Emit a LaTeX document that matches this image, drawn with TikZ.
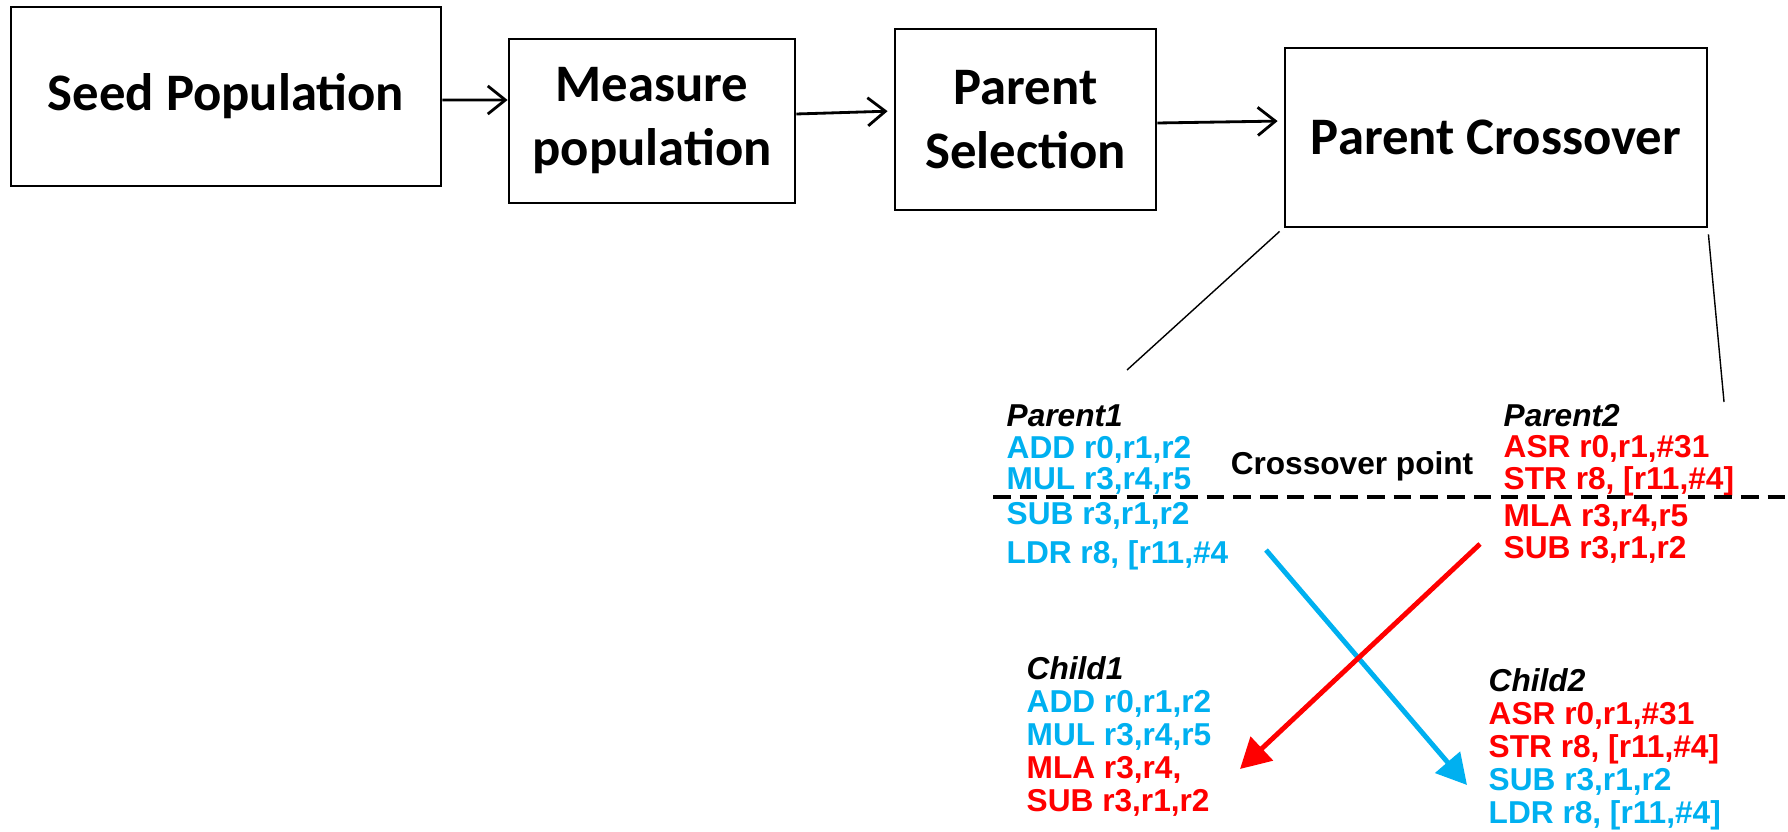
\documentclass[tikz,border=0pt]{standalone}
\usepackage{fontspec}
\setmainfont{Carlito}
\newfontfamily\armfont{Liberation Sans}
\usetikzlibrary{arrows.meta}

\definecolor{geneblue}{HTML}{00B0F0}
\definecolor{genered}{HTML}{FF0000}

\tikzset{
  stage/.style={draw, line width=0.8pt, align=center, inner sep=0pt,
    font=\bfseries\fontsize{15pt}{18.2pt}\selectfont},
  flow/.style={-{Straight Barb[length=5pt,width=8pt]}, line width=0.8pt},
  code/.style={anchor=base west, align=left, inner sep=0pt,
    font=\armfont\bfseries\fontsize{9pt}{9.36pt}\selectfont},
  tight/.style={font=\armfont\bfseries\fontsize{9pt}{9pt}\selectfont},
  zoomline/.style={line width=0.4pt},
  swap/.style={line width=1.4pt, -{Triangle[length=0.3cm,width=0.32cm]}}
}

\begin{document}
\begin{tikzpicture}
  \useasboundingbox (0,0) rectangle (17.88,-8.32);
  % GA flow
  \node[stage, minimum width=4.30cm, minimum height=1.79cm] (seed) at (2.26,-0.965) {Seed Population};
  \node[stage, minimum width=2.86cm, minimum height=1.64cm] (measure) at (6.52,-1.21) {Measure\\population};
  \node[stage, minimum width=2.61cm, minimum height=1.81cm] (select) at (10.255,-1.195) {Parent\\Selection};
  \node[stage, minimum width=4.22cm, minimum height=1.79cm] (cross) at (14.96,-1.375) {Parent Crossover};
  \draw[flow] ([yshift=-0.035cm]seed.east) -- ([yshift=0.21cm]measure.west);
  \draw[flow, shorten >=0.06cm] ([yshift=0.07cm]measure.east) -- ([yshift=0.085cm]select.west);
  \draw[flow, shorten >=0.06cm] ([yshift=-0.035cm]select.east) -- ([yshift=0.165cm]cross.west);
  % zoom into the crossover step
  \coordinate (zoomL) at (11.27,-3.70);
  \coordinate (zoomR) at (17.24,-4.02);
  \draw[zoomline] ([shift={(-0.04,-0.03)}]cross.south west) -- (zoomL);
  \draw[zoomline] ([shift={(0,-0.06)}]cross.south east) -- (zoomR);
  % parents (base = last line)
  \node[code, tight] (parentA) at (10.06,-5.635) {\textit{Parent1}\\
    \textcolor{geneblue}{ADD r0,r1,r2}\\
    \textcolor{geneblue}{MUL r3,r4,r5}\\[1pt]
    \textcolor{geneblue}{SUB r3,r1,r2}\\[2pt]
    \textcolor{geneblue}{LDR r8, [r11,\#4}};
  \node[code, tight] (parentB) at (15.03,-5.58) {\textit{Parent2}\\
    \textcolor{genered}{ASR r0,r1,\#31}\\
    \textcolor{genered}{STR r8, [r11,\#4]}\\[1.5pt]
    \textcolor{genered}{MLA r3,r4,r5}\\
    \textcolor{genered}{SUB r3,r1,r2}};
  \node[code, anchor=base] (cutlabel) at (13.52,-4.75) {Crossover point};
  \coordinate (cutL) at (9.93,-4.97);
  \coordinate (cutR) at (17.88,-4.97);
  \draw[line width=1.1pt, dash pattern=on 5pt off 2.6pt] (cutL) -- (cutR);
  % children
  \node[code] (childA) at (10.26,-8.11) {\textit{Child1}\\
    \textcolor{geneblue}{ADD r0,r1,r2}\\
    \textcolor{geneblue}{MUL r3,r4,r5}\\
    \textcolor{genered}{MLA r3,r4,}\\
    \textcolor{genered}{SUB r3,r1,r2}};
  \node[code] (childB) at (14.88,-8.235) {\textit{Child2}\\
    \textcolor{genered}{ASR r0,r1,\#31}\\
    \textcolor{genered}{STR r8, [r11,\#4]}\\
    \textcolor{geneblue}{SUB r3,r1,r2}\\
    \textcolor{geneblue}{LDR r8, [r11,\#4]}};
  % swapped tails
  \coordinate (tailA) at (12.66,-5.50);
  \coordinate (headA) at (14.67,-7.85);
  \coordinate (tailB) at (14.80,-5.44);
  \coordinate (headB) at (12.40,-7.69);
  \draw[swap, geneblue] (tailA) -- (headA);
  \draw[swap, genered] (tailB) -- (headB);
\end{tikzpicture}
\end{document}
